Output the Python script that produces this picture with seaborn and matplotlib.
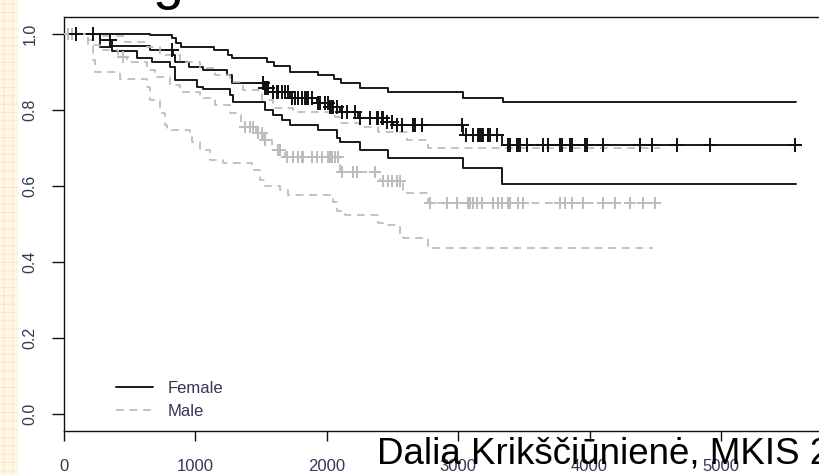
import numpy as np
import matplotlib
matplotlib.use("Agg")
import matplotlib.pyplot as plt
from matplotlib.lines import Line2D
from matplotlib.patches import Rectangle
import seaborn as sns

# ---------------- data ----------------
# Female: Kaplan-Meier estimate with confidence band
fem_t = [0, 274, 365, 654, 830, 845, 952, 1058, 1240, 1279, 1520, 1591, 1720, 1925,
         2024, 2100, 2237, 2458, 2504, 3037, 3333, 5601]
fem_s = [1.0, 0.984, 0.968, 0.958, 0.945, 0.926, 0.913, 0.905, 0.892, 0.871, 0.858,
         0.847, 0.832, 0.818, 0.808, 0.795, 0.779, 0.768, 0.761, 0.734, 0.708, 0.708]
fem_up_t = [0, 654, 822, 852, 890, 1142, 1248, 1279, 1545, 1598, 1720, 1933, 2055,
            2108, 2253, 2466, 3037, 3341, 5571]
fem_up_s = [1.0, 0.997, 0.989, 0.976, 0.967, 0.958, 0.945, 0.937, 0.926, 0.916, 0.899,
            0.891, 0.882, 0.871, 0.859, 0.847, 0.832, 0.822, 0.822]
fem_lo_t = [0, 274, 365, 556, 670, 807, 845, 1012, 1058, 1263, 1286, 1530, 1591, 1659,
            1720, 1933, 2078, 2100, 2253, 2466, 3037, 3333, 5571]
fem_lo_s = [1.0, 0.966, 0.955, 0.937, 0.926, 0.913, 0.879, 0.861, 0.855, 0.839, 0.821,
            0.800, 0.787, 0.774, 0.761, 0.747, 0.726, 0.716, 0.695, 0.674, 0.647, 0.605, 0.605]
fem_cens = [91, 221, 350, 822, 1514, 1530, 1545, 1553, 1591, 1621, 1629, 1659, 1682, 1705,
            1735, 1758, 1781, 1811, 1834, 1849, 1857, 1887, 1933, 1948, 1986, 2009, 2024,
            2040, 2047, 2078, 2116, 2154, 2215, 2253, 2329, 2382, 2390, 2420, 2428, 2458,
            2496, 2534, 2572, 2656, 2671, 2725, 3029, 3059, 3113, 3151, 3166, 3181, 3189,
            3227, 3242, 3295, 3379, 3394, 3447, 3455, 3470, 3524, 3645, 3683, 3775, 3790,
            3851, 3866, 3965, 3980, 4102, 4384, 4475, 4665, 4916, 5563]

# Male: Kaplan-Meier estimate with confidence band
mal_t = [0, 183, 221, 274, 411, 479, 632, 693, 807, 883, 1035, 1149, 1263, 1347, 1461,
         1514, 1583, 1682, 2100, 2405, 2580, 2770, 4536]
mal_s = [1.0, 0.984, 0.971, 0.958, 0.939, 0.926, 0.905, 0.887, 0.866, 0.847, 0.832,
         0.813, 0.792, 0.755, 0.739, 0.721, 0.695, 0.676, 0.637, 0.613, 0.582, 0.555, 0.555]
mal_up_t = [0, 274, 464, 632, 731, 883, 1035, 1149, 1263, 1362, 1507, 1591, 1743, 2062,
            2100, 2253, 2390, 2610, 2770, 4536]
mal_up_s = [1.0, 0.995, 0.979, 0.966, 0.945, 0.926, 0.911, 0.892, 0.874, 0.853, 0.826,
            0.805, 0.795, 0.782, 0.766, 0.755, 0.742, 0.721, 0.700, 0.700]
mal_lo_t = [0, 183, 221, 236, 426, 632, 654, 731, 769, 784, 959, 974, 1035, 1111, 1210,
            1431, 1492, 1530, 1644, 1705, 2047, 2078, 2139, 2390, 2428, 2557, 2580, 2770, 4482]
mal_lo_s = [1.0, 0.971, 0.932, 0.900, 0.882, 0.861, 0.826, 0.792, 0.761, 0.747, 0.729,
            0.716, 0.695, 0.668, 0.661, 0.642, 0.616, 0.600, 0.589, 0.576, 0.558, 0.534,
            0.524, 0.503, 0.497, 0.468, 0.463, 0.437, 0.437]
mal_cens = [30, 61, 449, 1377, 1416, 1438, 1476, 1507, 1530, 1629, 1644, 1697, 1743, 1781,
            1811, 1819, 1887, 1925, 1963, 2009, 2024, 2040, 2062, 2085, 2116, 2200, 2230,
            2367, 2428, 2466, 2496, 2534, 2557, 2785, 2915, 2991, 3075, 3090, 3113, 3143,
            3181, 3265, 3303, 3333, 3379, 3394, 3455, 3493, 3775, 3813, 3866, 3950, 4102,
            4193, 4307, 4406, 4498]

group_labels = ["Female", "Male"]
x_ticks = [0, 1000, 2000, 3000, 4000, 5000]
y_ticks = [0.0, 0.2, 0.4, 0.6, 0.8, 1.0]
footer = "Dalia Krikščiūnienė, MKIS 2"

# ---------------- style ----------------
sns.set_theme(style="white")
plt.rcParams["font.family"] = ["Liberation Sans", "DejaVu Sans"]
plt.rcParams["hatch.linewidth"] = 0.5

W, H = 820, 475
fig = plt.figure(figsize=(W / 100, H / 100), dpi=100)
fig.patch.set_facecolor("white")
ax = fig.add_axes([64 / W, 44 / H, 768.7 / W, 414 / H])
ax.set_facecolor("white")

BLACK = "#111111"
GRAY = "#bcbcbc"
DASH = (0, (4.5, 3.3))


def step_value(times, surv, t):
    idx = np.searchsorted(np.asarray(times), np.asarray(t), side="right") - 1
    return np.asarray(surv)[idx]


# female curves
for tt, ss in [(fem_up_t, fem_up_s), (fem_t, fem_s), (fem_lo_t, fem_lo_s)]:
    sns.lineplot(x=tt, y=ss, ax=ax, color=BLACK, lw=1.35, drawstyle="steps-post",
                 estimator=None, sort=False, legend=False)
# male curves
for tt, ss in [(mal_up_t, mal_up_s), (mal_t, mal_s), (mal_lo_t, mal_lo_s)]:
    sns.lineplot(x=tt, y=ss, ax=ax, color=GRAY, lw=1.25, linestyle=DASH,
                 drawstyle="steps-post", estimator=None, sort=False, legend=False)

# censor marks
sns.scatterplot(x=mal_cens, y=step_value(mal_t, mal_s, mal_cens), ax=ax, marker="+",
                s=85, color=GRAY, linewidth=1.4, legend=False, zorder=3)
sns.scatterplot(x=fem_cens, y=step_value(fem_t, fem_s, fem_cens), ax=ax, marker="+",
                s=90, color=BLACK, linewidth=1.4, legend=False, zorder=4)

ax.set_xlim(0, 5850)
ax.set_ylim(-0.045, 1.045)
ax.set_xticks(x_ticks)
ax.set_xticklabels([str(v) for v in x_ticks])
ax.set_yticks(y_ticks)
ax.set_yticklabels([f"{v:.1f}" for v in y_ticks], rotation=90, va="center")
ax.set_xlabel("")
ax.set_ylabel("")

LABC = "#363656"
ax.tick_params(axis="y", direction="out", length=9, width=1.0, color=BLACK, pad=10,
               labelsize=11.5, labelcolor=LABC, left=True)
ax.tick_params(axis="x", direction="out", length=7.5, width=1.0, color=BLACK, pad=13,
               labelsize=12, labelcolor=LABC, bottom=True)
for sp in ax.spines.values():
    sp.set_visible(True)
    sp.set_color(BLACK)
    sp.set_linewidth(1.0)

# legend
handles = [Line2D([], [], color=BLACK, lw=1.35),
           Line2D([], [], color=GRAY, lw=1.25, linestyle=DASH)]
leg = ax.legend(handles, group_labels, loc="lower left", bbox_to_anchor=(0.068, 0.03),
                frameon=False, fontsize=12, handlelength=2.2, handletextpad=0.9,
                labelspacing=0.45, borderpad=0, borderaxespad=0)
for txt in leg.get_texts():
    txt.set_color(LABC)

# slide decorations: left stripe, title descender, footer
fig.patches.append(Rectangle((0, 0), 18 / W, 1, transform=fig.transFigure,
                             facecolor="#fef6e6", edgecolor="#f9e2b6", hatch="++",
                             linewidth=0, zorder=0))
fig.text(153 / W, 1.0 + 2 / H, "g", fontsize=40, va="baseline", ha="left", color="black")
fig.text(377 / W, (H - 463) / H, footer, fontsize=26.5, va="baseline", ha="left",
         color="black", zorder=10)

fig.savefig("out.png", dpi=100)
